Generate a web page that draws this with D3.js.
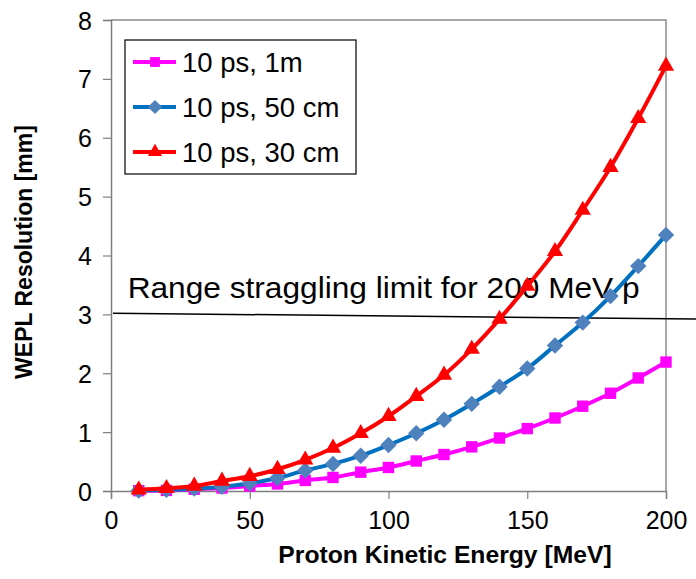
<!DOCTYPE html>
<html>
<head>
<meta charset="utf-8">
<script src="https://cdn.jsdelivr.net/npm/d3@7"></script>
<style>
  body { margin: 0; background: #fff; }
  text { font-family: "Liberation Sans", Arial, sans-serif; }
</style>
</head>
<body>
<div id="chart"></div>
<script>
var svgWidth = 696;
var svgHeight = 579;

// data
var energy = [10, 20, 30, 40, 50, 60, 70, 80, 90, 100, 110, 120, 130, 140, 150, 160, 170, 180, 190, 200];
var res1m = [0.005, 0.01, 0.03, 0.05, 0.085, 0.12, 0.18, 0.23, 0.32, 0.40, 0.51, 0.62, 0.75, 0.90, 1.06, 1.24, 1.44, 1.66, 1.92, 2.19];
var res50cm = [0.01, 0.02, 0.04, 0.07, 0.13, 0.22, 0.35, 0.46, 0.60, 0.78, 0.98, 1.21, 1.48, 1.77, 2.08, 2.47, 2.86, 3.31, 3.82, 4.35];
var res30cm = [0.02, 0.045, 0.085, 0.17, 0.25, 0.37, 0.53, 0.73, 0.98, 1.27, 1.61, 1.97, 2.41, 2.92, 3.48, 4.07, 4.77, 5.50, 6.33, 7.22];
var seriesNames = ["10 ps, 1m", "10 ps, 50 cm", "10 ps, 30 cm"];
var xTicks = [0, 50, 100, 150, 200];
var yTicks = [0, 1, 2, 3, 4, 5, 6, 7, 8];
var limitLine = [{x: 0.7, y: 3.02}, {x: 210.8, y: 2.92}];
var limitLabel = "Range straggling limit for 200 MeV p";

var margin = {top: 20, right: 30, bottom: 88, left: 111};
var plotWidth = 666 - margin.left;
var plotHeight = 491 - margin.top;

var svg = d3.select("#chart")
    .append("svg")
    .attr("width", svgWidth)
    .attr("height", svgHeight);

var plot = svg.append("g")
    .attr("transform", `translate(${margin.left},${margin.top})`);

var scX = d3.scaleLinear().domain([0, 200]).range([0, plotWidth]);
var scY = d3.scaleLinear().domain([0, 8]).range([plotHeight, 0]);

// frame (top + right)
plot.append("path")
    .attr("d", `M0,0H${plotWidth}V${plotHeight}`)
    .attr("fill", "none")
    .attr("stroke", "#8c8c8c")
    .attr("stroke-width", 1.5);

var xAxis = plot.append("g")
    .attr("transform", `translate(0,${plotHeight})`)
    .call(d3.axisBottom(scX).tickValues(xTicks).tickSize(8).tickPadding(12));
var yAxis = plot.append("g")
    .call(d3.axisLeft(scY).tickValues(yTicks).tickSize(8).tickPadding(11));

[xAxis, yAxis].forEach(function(ax) {
  ax.select(".domain").attr("stroke", "#7f7f7f").attr("stroke-width", 1.5);
  ax.selectAll(".tick line").attr("stroke", "#7f7f7f").attr("stroke-width", 1.2);
  ax.selectAll(".tick text")
    .attr("fill", "#000")
    .style("font-size", "25px")
    .style("font-family", "'Liberation Sans', Arial, sans-serif");
});
yAxis.selectAll(".tick text").attr("dy", "0.36em");

// axis titles
svg.append("text")
    .attr("x", 445)
    .attr("y", 563)
    .attr("text-anchor", "middle")
    .style("font-size", "24.7px")
    .style("font-weight", "bold")
    .text("Proton Kinetic Energy [MeV]");

svg.append("text")
    .attr("transform", "translate(32,252) rotate(-90)")
    .attr("text-anchor", "middle")
    .style("font-size", "23px")
    .style("font-weight", "bold")
    .text("WEPL Resolution [mm]");

// range straggling limit
plot.append("line")
    .attr("x1", scX(limitLine[0].x))
    .attr("y1", scY(limitLine[0].y))
    .attr("x2", scX(limitLine[1].x))
    .attr("y2", scY(limitLine[1].y))
    .attr("stroke", "#000")
    .attr("stroke-width", 1.5);

plot.append("text")
    .attr("x", scX(6))
    .attr("y", scY(3.28))
    .attr("textLength", 512)
    .attr("lengthAdjust", "spacingAndGlyphs")
    .style("font-size", "29px")
    .text(limitLabel);

// series
var series = [
  {name: seriesNames[0], values: res1m, line: "#ff00ff", mark: "#ff00ff", shape: d3.symbolSquare, size: 130, rot: 0},
  {name: seriesNames[1], values: res50cm, line: "#0070c0", mark: "#4f81bd", shape: d3.symbolSquare, size: 135, rot: 45},
  {name: seriesNames[2], values: res30cm, line: "#ff0000", mark: "#ff0000", shape: d3.symbolTriangle, size: 115, rot: 0}
];

var lineGen = d3.line()
    .x(d => scX(d.x))
    .y(d => scY(d.y))
    .curve(d3.curveCatmullRom.alpha(0.5));

series.forEach(function(s) {
  var pts = energy.map((e, i) => ({x: e, y: s.values[i]}));
  plot.append("path")
      .datum(pts)
      .attr("d", lineGen)
      .attr("fill", "none")
      .attr("stroke", s.line)
      .attr("stroke-width", 4);
  plot.selectAll(null)
      .data(pts)
      .enter()
      .append("path")
      .attr("d", d3.symbol().type(s.shape).size(s.size))
      .attr("transform", d => `translate(${scX(d.x)},${scY(d.y)}) rotate(${s.rot})`)
      .attr("fill", s.mark);
});

// legend
var legend = svg.append("g").attr("transform", "translate(125,40)");
legend.append("rect")
    .attr("width", 231)
    .attr("height", 134)
    .attr("fill", "#fff")
    .attr("stroke", "#000")
    .attr("stroke-width", 1.2);

series.forEach(function(s, i) {
  var cy = 22 + i * 45;
  var row = legend.append("g").attr("transform", `translate(0,${cy})`);
  row.append("line")
      .attr("x1", 8).attr("x2", 51)
      .attr("stroke", s.line)
      .attr("stroke-width", 4);
  row.append("path")
      .attr("d", d3.symbol().type(s.shape).size(s.size * 0.75))
      .attr("transform", `translate(30,0) rotate(${s.rot})`)
      .attr("fill", s.mark);
  row.append("text")
      .attr("x", 57)
      .attr("y", 10)
      .style("font-size", "27.5px")
      .text(s.name);
});
</script>
</body>
</html>
